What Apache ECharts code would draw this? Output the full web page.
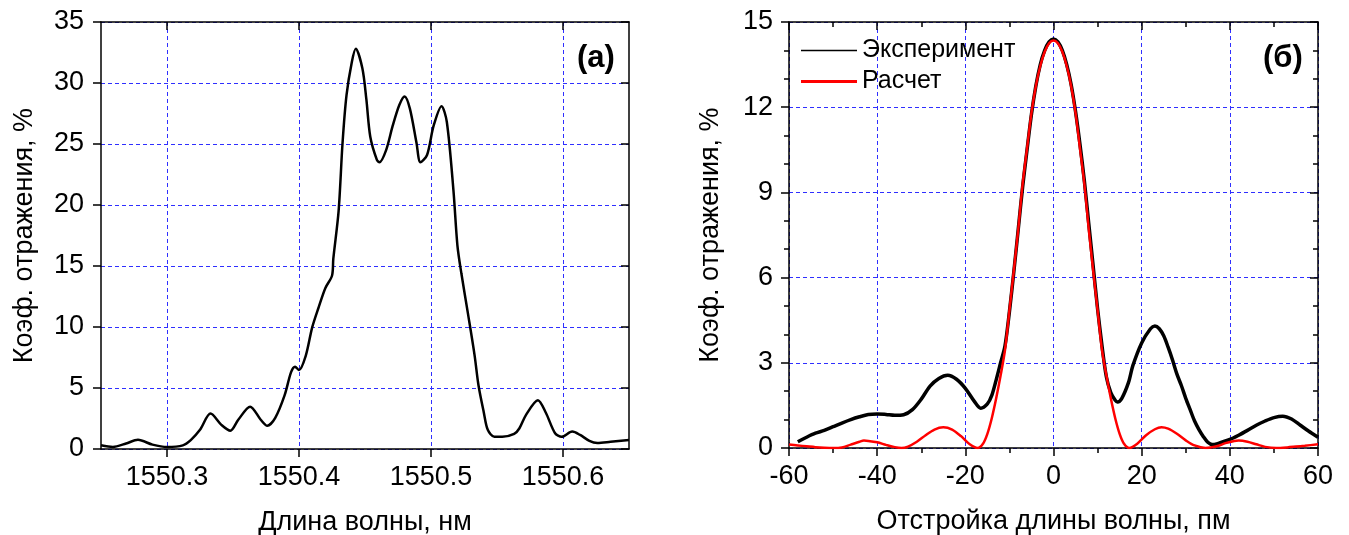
<!DOCTYPE html>
<html><head><meta charset="utf-8">
<script src="https://cdn.jsdelivr.net/npm/echarts@6/dist/echarts.min.js"></script>
<style>html,body{margin:0;padding:0;background:#fff}#c{width:1349px;height:535px}</style>
</head><body><div id="c"></div><script>
// Panel (a): reflection spectrum
const wavelengthA = [1550.250,1550.259,1550.269,1550.278,1550.289,1550.300,1550.312,1550.318,1550.325,1550.333,1550.341,1550.348,1550.354,1550.363,1550.371,1550.376,1550.382,1550.389,1550.394,1550.397,1550.400,1550.405,1550.410,1550.415,1550.420,1550.425,1550.426,1550.430,1550.433,1550.436,1550.440,1550.443,1550.448,1550.451,1550.454,1550.459,1550.461,1550.466,1550.471,1550.476,1550.480,1550.484,1550.489,1550.492,1550.497,1550.502,1550.508,1550.512,1550.517,1550.520,1550.523,1550.528,1550.533,1550.536,1550.540,1550.543,1550.548,1550.554,1550.563,1550.567,1550.572,1550.581,1550.587,1550.594,1550.599,1550.607,1550.613,1550.620,1550.626,1550.636,1550.650];
const reflA = [0.3,0.17,0.45,0.75,0.36,0.17,0.3,0.73,1.57,2.9,2.0,1.5,2.4,3.47,2.4,1.9,2.55,4.37,6.3,6.75,6.47,7.6,9.97,11.65,13.2,14.2,15.6,19.5,25.1,29.0,31.7,32.8,31.2,28.7,25.6,23.7,23.5,24.5,26.5,28.2,28.9,27.9,25.1,23.5,24.1,26.5,28.1,26.8,21.2,16.7,14.4,11.1,7.7,5.2,3.0,1.57,1.0,1.0,1.23,1.7,2.8,4.0,2.97,1.29,1.0,1.43,1.15,0.67,0.5,0.59,0.73];
const xTicksA = [1550.3,1550.4,1550.5,1550.6];

// Panel (б): experiment vs calculation
const detuneExp = [-58,-56,-54,-52,-50,-48,-46,-44,-42,-40,-38,-36,-34,-32,-30,-28,-26,-24,-22,-20,-18,-16.5,-15,-14,-13,-12,-11,-10,-9,-8,-7,-6,-5,-4,-3,-2,-1,0,1,2,3,4,5,6,7,8,9,10,11,12,13,14,14.5,15.5,17,18,20,22,23,24,25,26,27,28,29,30,31,32,33,34,35,36,37,38,40,42,44,46,48,50,52,54,56,58,60];
const reflExp = [0.22,0.38,0.52,0.62,0.75,0.88,1.0,1.1,1.18,1.2,1.18,1.15,1.17,1.35,1.72,2.18,2.45,2.56,2.42,2.1,1.65,1.4,1.55,1.85,2.4,3.0,3.6,4.8,6.2,7.7,9.2,10.5,11.75,12.75,13.5,14.0,14.3,14.4,14.3,14.0,13.5,12.8,11.85,10.7,9.4,7.9,6.4,4.9,3.6,2.5,1.95,1.68,1.62,1.75,2.3,2.9,3.7,4.2,4.3,4.2,3.95,3.55,3.1,2.6,2.2,1.75,1.35,0.95,0.65,0.4,0.2,0.12,0.14,0.2,0.3,0.45,0.62,0.8,0.95,1.07,1.12,1.02,0.8,0.58,0.38];
const detuneCalc = [-60,-58,-56,-54,-52,-50,-48,-46,-44,-43,-42,-40,-38,-36,-34.5,-33,-31,-29,-27,-25,-23,-21,-19,-17.2,-16,-15,-14,-13,-12,-11,-10,-9,-8,-7,-6,-5,-4,-3,-2,-1,0,1,2,3,4,5,6,7,8,9,10,11,12,13,14,15,16,17.2,19,21,23,24.5,26,28,30,32,34.5,37,39,41,42,44,46,48,50.5,53,55,57,60];
const reflCalc = [0.12,0.09,0.06,0.03,0.01,0.0,0.02,0.12,0.22,0.26,0.25,0.2,0.11,0.03,0.0,0.05,0.22,0.45,0.65,0.73,0.65,0.42,0.13,0.0,0.15,0.5,1.05,1.75,2.55,3.45,4.85,6.25,7.7,9.3,10.55,11.8,12.75,13.45,13.95,14.25,14.35,14.25,13.95,13.45,12.75,11.8,10.55,9.3,7.7,6.25,4.85,3.45,2.55,1.75,1.05,0.5,0.15,0.0,0.15,0.45,0.66,0.73,0.68,0.5,0.27,0.09,0.0,0.06,0.17,0.25,0.26,0.22,0.13,0.04,0.0,0.02,0.05,0.08,0.13];

const FONT = 'Liberation Sans, Arial, sans-serif';
const gridLine = () => ({show:true, lineStyle:{color:'#2f2fff', width:1, type:[4,3], opacity:1}});
const blackLine = () => ({show:true, onZero:false, lineStyle:{color:'#000', width:1.5}});
const tk = (len, inside, extra) => Object.assign({show:true, inside:!!inside, length:len, lineStyle:{color:'#000', width:1.5}}, extra||{});
const tickLbl = () => ({fontSize:27, color:'#000', fontFamily:FONT});
const nameStyle = () => ({fontSize:27, color:'#000', fontFamily:FONT});
const zip = (a,b)=>a.map((v,i)=>[v,b[i]]);

const chart = echarts.init(document.getElementById('c'), null, {renderer:'canvas'});
chart.setOption({
  animation:false,
  backgroundColor:'#fff',
  grid:[
    {left:101, right:720, top:22, bottom:86, containLabel:false, outerBoundsMode:'none'},
    {left:789, right:31, top:22, bottom:87, containLabel:false, outerBoundsMode:'none'}
  ],
  xAxis:[
    {gridIndex:0, type:'value', position:'bottom', min:1550.25, max:1550.65, interval:0.05,
      axisLine:blackLine(),
      axisTick:tk(8, false, {customValues:xTicksA}),
      axisLabel:Object.assign({customValues:xTicksA, margin:15, formatter:v=>v.toFixed(1)}, tickLbl()),
      splitLine:{show:false},
      name:'Длина волны, нм', nameLocation:'middle', nameGap:60, nameTextStyle:nameStyle()},
    {gridIndex:0, type:'value', position:'top', min:1550.25, max:1550.65, interval:0.05,
      axisLine:blackLine(),
      axisTick:tk(8, true, {customValues:xTicksA}),
      axisLabel:{show:false}, splitLine:gridLine()},
    {gridIndex:1, type:'value', position:'bottom', min:-60, max:60, interval:20,
      axisLine:blackLine(),
      axisTick:tk(8, false),
      minorTick:tk(5, false, {splitNumber:2}),
      axisLabel:Object.assign({margin:15}, tickLbl()),
      splitLine:gridLine(),
      name:'Отстройка длины волны, пм', nameLocation:'middle', nameGap:60, nameTextStyle:nameStyle()},
    {gridIndex:1, type:'value', position:'top', min:-60, max:60, interval:20,
      axisLine:blackLine(),
      axisTick:tk(8, true),
      minorTick:tk(5, true, {splitNumber:2}),
      axisLabel:{show:false}, splitLine:{show:false}}
  ],
  yAxis:[
    {gridIndex:0, type:'value', position:'left', min:0, max:35, interval:5,
      axisLine:blackLine(),
      axisTick:tk(8, false),
      axisLabel:Object.assign({margin:17}, tickLbl()),
      splitLine:gridLine(),
      name:'Коэф. отражения, %', nameLocation:'middle', nameGap:63, nameTextStyle:nameStyle()},
    {gridIndex:0, type:'value', position:'right', min:0, max:35, interval:5,
      axisLine:blackLine(),
      axisTick:tk(8, true),
      axisLabel:{show:false}, splitLine:{show:false}},
    {gridIndex:1, type:'value', position:'left', min:0, max:15, interval:3,
      axisLine:blackLine(),
      axisTick:tk(8, false),
      minorTick:tk(5, false, {splitNumber:3}),
      axisLabel:Object.assign({margin:16}, tickLbl()),
      splitLine:gridLine(),
      name:'Коэф. отражения, %', nameLocation:'middle', nameGap:65, nameTextStyle:nameStyle()},
    {gridIndex:1, type:'value', position:'right', min:0, max:15, interval:3,
      axisLine:blackLine(),
      axisTick:tk(8, true),
      minorTick:tk(5, true, {splitNumber:3}),
      axisLabel:{show:false}, splitLine:{show:false}}
  ],
  legend:[
    {orient:'vertical', left:796, top:33, itemWidth:56, itemHeight:1.5, icon:'rect', itemGap:8,
      textStyle:{fontSize:25, color:'#000', fontFamily:FONT},
      data:[{name:'Эксперимент', itemStyle:{color:'#000'}}]},
    {orient:'vertical', left:796, top:64, itemWidth:56, itemHeight:3, icon:'rect', itemGap:8,
      textStyle:{fontSize:25, color:'#000', fontFamily:FONT},
      data:[{name:'Расчет', itemStyle:{color:'#ff0000'}}]}
  ],
  graphic:[
    {type:'text', left:577, top:43, style:{text:'(а)', font:'bold 31px '+FONT, fill:'#000'}},
    {type:'text', left:1263, top:43, style:{text:'(б)', font:'bold 31px '+FONT, fill:'#000'}}
  ],
  series:[
    {type:'line', name:'A', xAxisIndex:0, yAxisIndex:0, data:zip(wavelengthA, reflA),
      symbol:'none', smooth:0.3, lineStyle:{color:'#000', width:2.5}},
    {type:'line', name:'Эксперимент', xAxisIndex:2, yAxisIndex:2, data:zip(detuneExp, reflExp),
      symbol:'none', smooth:0.3, color:'#000', lineStyle:{color:'#000', width:3.5}},
    {type:'line', name:'Расчет', xAxisIndex:2, yAxisIndex:2, data:zip(detuneCalc, reflCalc),
      symbol:'none', smooth:0.3, color:'#ff0000', lineStyle:{color:'#ff0000', width:2.5}}
  ]
});
</script></body></html>
